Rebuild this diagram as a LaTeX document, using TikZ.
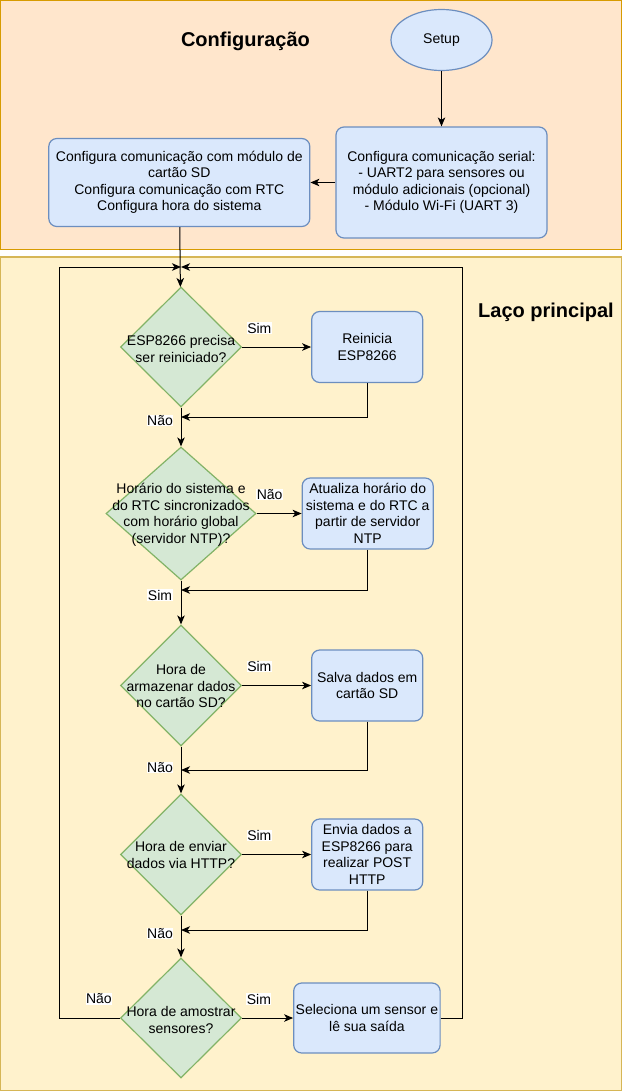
\documentclass[tikz,border=0pt]{standalone}
\usepackage{fontspec}
\setmainfont{Liberation Sans}
\usetikzlibrary{positioning,shapes.geometric,arrows.meta}
\definecolor{procfill}{HTML}{DAE8FC}
\definecolor{procline}{HTML}{6C8EBF}
\definecolor{decfill}{HTML}{D5E8D4}
\definecolor{decline}{HTML}{82B366}
\definecolor{setupfill}{HTML}{FFE6CC}
\definecolor{setupline}{HTML}{D79B00}
\definecolor{loopfill}{HTML}{FFF2CC}
\definecolor{loopline}{HTML}{D6B656}
\tikzset{%
  process/.style={
    rectangle,
    rounded corners=8pt,
    draw=procline,
    fill=procfill,
    line width=1.2pt,
    align=center,
    inner sep=2pt
  },
  decision/.style={
    diamond,
    draw=decline,
    fill=decfill,
    line width=1.2pt,
    inner sep=0pt
  },
  question/.style={align=center, inner sep=0pt},
  answer/.style={fill=white, inner sep=0.5pt},
}

\begin{document}
\begin{tikzpicture}[x=1pt,y=-1pt,line width=1pt,>={Stealth[length=9pt,width=7.5pt,inset=2.5pt]},font=\fontsize{14}{16.5}\selectfont]
        \tikzstyle{panel}=[line width=1.2pt]
        \tikzstyle{heading}=[font=\fontsize{20}{24}\selectfont\bfseries]
        \useasboundingbox (0,0) rectangle (626,1092);

        \draw[panel,draw=setupline,fill=setupfill] (0.6,0.6) rectangle (621.5,249.5);
        \draw[panel,draw=loopline,fill=loopfill] (0.6,257) rectangle (621.5,1090.5);
        \node[heading] (cfgtitle) at (245.5,41) {Configuração};
        \node[heading] (looptitle) at (546,312) {Laço principal};

        \node[ellipse,draw=procline,fill=procfill,line width=1.2pt,minimum width=101pt,minimum height=61pt] (setup) at (441.5,40) {Setup};
        \node[process,minimum width=211pt,minimum height=111pt] (serial) at (441.5,182.5) {Configura comunicação serial:\\- UART2 para sensores ou\\módulo adicionais (opcional)\\- Módulo Wi-Fi (UART 3)};
        \node[process,minimum width=261pt,minimum height=88pt,left=25pt of serial] (cfg) {Configura comunicação com módulo de\\cartão SD\\Configura comunicação com RTC\\Configura hora do sistema};

        \node[decision,minimum width=121pt,minimum height=120pt] (esp) at (181,347) {};
        \node[question] (esp-text) at (181,349) {ESP8266 precisa\\ser reiniciado?};
        \node[decision,minimum width=150pt,minimum height=133pt] (sync) at (181,513.5) {};
        \node[question] (sync-text) at (181,515) {Horário do sistema e\\do RTC sincronizados\\com horário global\\(servidor NTP)?};
        \node[decision,minimum width=121pt,minimum height=121pt] (store) at (181,685.5) {};
        \node[question] (store-text) at (181,686) {Hora de\\armazenar dados\\no cartão SD?};
        \node[decision,minimum width=121pt,minimum height=121pt] (send) at (181,854.5) {};
        \node[question] (send-text) at (181,855) {Hora de enviar\\dados via HTTP?};
        \node[decision,minimum width=121pt,minimum height=120pt] (sample) at (181,1018) {};
        \node[question] (sample-text) at (181,1020) {Hora de amostrar\\sensores?};

        \node[process,minimum width=111pt,minimum height=71pt,right=69pt of esp] (reboot) {Reinicia\\ESP8266};
        \node[process,minimum width=131pt,minimum height=71pt,right=45pt of sync] (ntp) {Atualiza horário do\\sistema e do RTC a\\partir de servidor\\NTP};
        \node[process,minimum width=111pt,minimum height=71pt,right=69pt of store] (save) {Salva dados em\\cartão SD};
        \node[process,minimum width=111pt,minimum height=71pt,right=69pt of send] (post) {Envia dados a\\ESP8266 para\\realizar POST\\HTTP};
        \node[process,minimum width=146pt,minimum height=70pt,right=51pt of sample] (read) {Seleciona um sensor e\\lê sua saída};

        \coordinate (top) at (181,267);
        \coordinate (j1) at (181,417);
        \coordinate (j2) at (181,590);
        \coordinate (j3) at (181,770);
        \coordinate (j4) at (181,930);

        \draw[->] (setup) -- (serial);
        \draw[->] (serial) -- (cfg);
        \draw[->] (read.east) -- ++(22,0) |- (top);
        \draw[->] (sample.west) -- node[answer,pos=0.35,yshift=19pt] {Não} ++(-60,0) |- (top);
        \draw[->] (cfg) -- (esp);

        \draw[->] (esp) -- node[answer,pos=0.25,yshift=19pt] {Sim} (reboot);
        \draw[->] (reboot) |- (j1);
        \draw[->] (esp) -- node[answer,pos=0.33,xshift=-21pt] {Não} (sync);
        \draw[->] (sync) -- node[answer,pos=0.29,yshift=19pt] {Não} (ntp);
        \draw[->] (ntp) |- (j2);
        \draw[->] (sync) -- node[answer,pos=0.33,xshift=-21pt] {Sim} (store);
        \draw[->] (store) -- node[answer,pos=0.25,yshift=19pt] {Sim} (save);
        \draw[->] (save) |- (j3);
        \draw[->] (store) -- node[answer,pos=0.44,xshift=-21pt] {Não} (send);
        \draw[->] (send) -- node[answer,pos=0.25,yshift=19pt] {Sim} (post);
        \draw[->] (post) |- (j4);
        \draw[->] (send) -- node[answer,pos=0.42,xshift=-21pt] {Não} (sample);
        \draw[->] (sample) -- node[answer,pos=0.33,yshift=19pt] {Sim} (read);
    \end{tikzpicture}
\end{document}
